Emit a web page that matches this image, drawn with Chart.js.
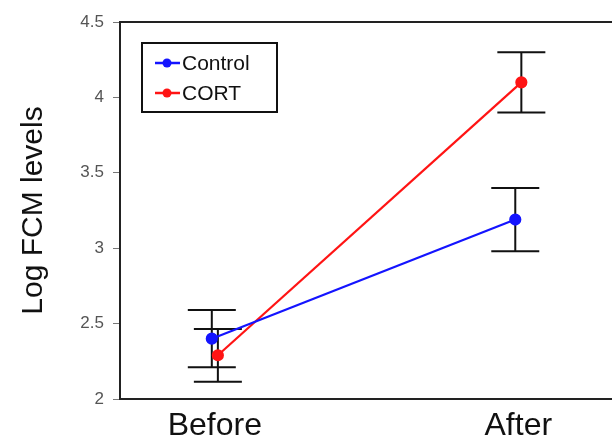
<!DOCTYPE html>
<html>
<head>
<meta charset="utf-8">
<script src="https://cdn.jsdelivr.net/npm/chart.js@4.4.1/dist/chart.umd.min.js"></script>
<style>
  html, body { margin: 0; padding: 0; background: #fff; }
  #wrap { width: 612px; height: 440px; }
</style>
</head>
<body>
<div id="wrap"><canvas id="grafico" width="612" height="440"></canvas></div>
<script>
const categorias = ['Before', 'After'];
const controlMedias = [2.40, 3.19];
const controlErrores = [0.19, 0.21];
const cortMedias = [2.29, 4.10];
const cortErrores = [0.175, 0.20];
const ticksY = [2, 2.5, 3, 3.5, 4, 4.5];

const desplazamiento = 0.01; // separa un poco los puntos de cada grupo

function armarPuntos(medias, errores, signo) {
  return medias.map((v, i) => ({ x: i + signo * desplazamiento, y: v, err: errores[i] }));
}

// barras de error dibujadas con las escalas del grafico
const barrasError = {
  id: 'barrasError',
  beforeDatasetsDraw(chart) {
    const ctx = chart.ctx;
    const y = chart.scales.y;
    const x = chart.scales.x;
    ctx.save();
    ctx.strokeStyle = '#111';
    ctx.lineWidth = 2;
    chart.data.datasets.forEach(ds => {
      ds.data.forEach(p => {
        const px = x.getPixelForValue(p.x);
        const arriba = y.getPixelForValue(p.y + p.err);
        const abajo = y.getPixelForValue(p.y - p.err);
        ctx.beginPath();
        ctx.moveTo(px, arriba);
        ctx.lineTo(px, abajo);
        ctx.moveTo(px - 24, arriba);
        ctx.lineTo(px + 24, arriba);
        ctx.moveTo(px - 24, abajo);
        ctx.lineTo(px + 24, abajo);
        ctx.stroke();
      });
    });
    ctx.restore();
  }
};

// bordes superior e inferior hasta el final y leyenda en recuadro
const marcoYLeyenda = {
  id: 'marcoYLeyenda',
  afterDraw(chart) {
    const ctx = chart.ctx;
    const area = chart.chartArea;
    ctx.save();
    ctx.strokeStyle = '#222';
    ctx.lineWidth = 2;
    ctx.beginPath();
    ctx.moveTo(area.left, area.top);
    ctx.lineTo(chart.width, area.top);
    ctx.moveTo(area.left, area.bottom);
    ctx.lineTo(chart.width, area.bottom);
    ctx.stroke();

    const bx = area.left + 22, by = area.top + 21;
    ctx.strokeStyle = '#111';
    ctx.strokeRect(bx, by, 135, 69);
    ctx.font = '21px "Liberation Sans", Arial, sans-serif';
    ctx.textBaseline = 'middle';
    ctx.textAlign = 'left';
    chart.data.datasets.forEach((ds, i) => {
      const ly = by + 20 + i * 30;
      ctx.strokeStyle = ds.borderColor;
      ctx.lineWidth = 2.5;
      ctx.beginPath();
      ctx.moveTo(bx + 13, ly);
      ctx.lineTo(bx + 38, ly);
      ctx.stroke();
      ctx.fillStyle = ds.borderColor;
      ctx.beginPath();
      ctx.arc(bx + 25, ly, 4.5, 0, Math.PI * 2);
      ctx.fill();
      ctx.fillStyle = '#111';
      ctx.fillText(ds.label, bx + 40, ly + 1);
    });
    ctx.restore();
  }
};

const ctx = document.getElementById('grafico').getContext('2d');
new Chart(ctx, {
  type: 'line',
  data: {
    datasets: [
      {
        label: 'Control',
        data: armarPuntos(controlMedias, controlErrores, -1),
        borderColor: '#1414ff',
        backgroundColor: '#1414ff',
        borderWidth: 2.2,
        pointRadius: 5,
        pointHoverRadius: 5
      },
      {
        label: 'CORT',
        data: armarPuntos(cortMedias, cortErrores, 1),
        borderColor: '#ff1414',
        backgroundColor: '#ff1414',
        borderWidth: 2.2,
        pointRadius: 5,
        pointHoverRadius: 5
      }
    ]
  },
  options: {
    responsive: false,
    animation: false,
    layout: { padding: { top: 22, right: 0, left: 0, bottom: 0 } },
    plugins: {
      legend: { display: false },
      tooltip: { enabled: false }
    },
    scales: {
      x: {
        type: 'linear',
        min: -0.3125,
        max: 1.285,
        afterBuildTicks: scale => { scale.ticks = categorias.map((c, i) => ({ value: i })); },
        afterFit: scale => { scale.height = 41; },
        ticks: {
          callback: v => categorias[v],
          color: '#111',
          padding: 0,
          maxRotation: 0,
          font: { family: '"Liberation Sans", Arial, sans-serif', size: 32 }
        },
        grid: { display: false },
        border: { display: true, color: '#222', width: 2 }
      },
      y: {
        min: 2,
        max: 4.5,
        afterBuildTicks: scale => { scale.ticks = ticksY.map(v => ({ value: v })); },
        afterFit: scale => { scale.width = 120; },
        ticks: {
          callback: v => String(v),
          color: '#555',
          padding: 9,
          font: { family: '"Liberation Sans", Arial, sans-serif', size: 17 }
        },
        grid: { drawOnChartArea: false, drawTicks: true, tickLength: 7, color: '#777' },
        border: { display: true, color: '#222', width: 2 },
        title: {
          display: true,
          text: 'Log FCM levels',
          color: '#111',
          padding: { top: 16, bottom: 0 },
          font: { family: '"Liberation Sans", Arial, sans-serif', size: 30 }
        }
      }
    }
  },
  plugins: [barrasError, marcoYLeyenda]
});
</script>
</body>
</html>
